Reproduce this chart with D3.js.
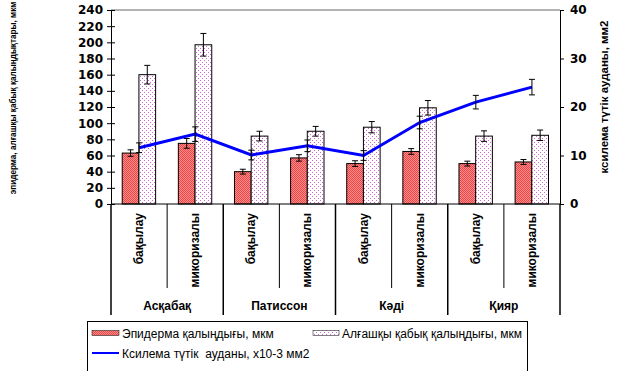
<!DOCTYPE html>
<html lang="kk">
<head>
<meta charset="UTF-8">
<script src="https://d3js.org/d3.v7.min.js"></script>
<style>
  body { margin: 0; background: #fff; }
  svg { display: block; }
  text { font-family: "Liberation Sans", Arial, sans-serif; fill: #000; }
</style>
</head>
<body>
<div id="app"></div>
<script>
  // data
  const groups = ['Асқабақ', 'Патиссон', 'Кәді', 'Қияр'];
  const variants = ['бақылау', 'микоризалы'];
  const epidermis = [63, 75, 40, 57, 50, 65, 50, 52];
  const epidermisErr = [4, 6, 3, 4, 3.5, 3.5, 3, 3];
  const cortex = [160, 197, 84, 90, 95, 119, 84, 85];
  const cortexErr = [11.5, 14, 6, 6, 7, 9, 6.5, 6.5];
  const xylem = [11.6, 14.4, 10.1, 12.0, 10.0, 16.8, 21.0, 24.1];
  const xylemErr = [1, 1.5, 1, 1.2, 1, 1.3, 1.4, 1.6];
  const leftTicks = d3.range(0, 241, 20);
  const rightTicks = [0, 10, 20, 30, 40];
  const seriesNames = ['Эпидерма қалыңдығы, мкм', 'Алғашқы қабық қалыңдығы, мкм', 'Ксилема түтік  ауданы, x10-3 мм2'];

  const cats = [];
  groups.forEach(function (g) {
    variants.forEach(function (v) { cats.push(g + '|' + v); });
  });

  const svg_width = 620, svg_height = 371;
  const plot_left = 111, plot_right = 560, plot_top = 10, plot_bottom = 204;

  const svg = d3.select('#app').append('svg')
    .attr('width', svg_width).attr('height', svg_height);

  const defs = svg.append('defs');
  const pRed = defs.append('pattern').attr('id', 'pRed')
    .attr('width', 2).attr('height', 2).attr('patternUnits', 'userSpaceOnUse');
  pRed.append('rect').attr('width', 2).attr('height', 2).attr('fill', '#ff8a8a');
  pRed.append('rect').attr('width', 1).attr('height', 1).attr('fill', '#e84848');
  pRed.append('rect').attr('x', 1).attr('y', 1).attr('width', 1).attr('height', 1).attr('fill', '#e84848');
  const pPink = defs.append('pattern').attr('id', 'pPink')
    .attr('width', 4).attr('height', 4).attr('patternUnits', 'userSpaceOnUse');
  pPink.append('rect').attr('width', 4).attr('height', 4).attr('fill', '#fff');
  pPink.append('rect').attr('width', 1).attr('height', 1).attr('fill', '#cc66cc');
  pPink.append('rect').attr('x', 2).attr('y', 2).attr('width', 1).attr('height', 1).attr('fill', '#cc66cc');

  const x = d3.scaleBand().domain(cats).range([plot_left, plot_right]).padding(0);
  const bw = x.bandwidth();
  const x1 = d3.scaleBand().domain(['ep', 'co']).range([bw * 0.2, bw * 0.795]).padding(0);
  const y = d3.scaleLinear().domain([0, 240]).range([plot_bottom, plot_top]);
  const y2 = d3.scaleLinear().domain([0, 40]).range([plot_bottom, plot_top]);

  // top border
  svg.append('line').attr('x1', plot_left).attr('x2', plot_right).attr('y1', plot_top).attr('y2', plot_top)
    .attr('stroke', '#666').attr('stroke-width', 1);

  function errBars(vals, errs, xf, sc) {
    const g = svg.append('g').attr('stroke', '#000').attr('stroke-width', 1);
    vals.forEach(function (v, i) {
      const cx = xf(i);
      const y0 = sc(v - errs[i]), y1 = sc(v + errs[i]);
      g.append('line').attr('x1', cx).attr('x2', cx).attr('y1', y0).attr('y2', y1);
      g.append('line').attr('x1', cx - 3).attr('x2', cx + 3).attr('y1', y0).attr('y2', y0);
      g.append('line').attr('x1', cx - 3).attr('x2', cx + 3).attr('y1', y1).attr('y2', y1);
    });
  }

  // bars
  svg.append('g').selectAll('rect').data(epidermis).enter().append('rect')
    .attr('x', function (d, i) { return x(cats[i]) + x1('ep'); })
    .attr('y', function (d) { return y(d); })
    .attr('width', x1.bandwidth())
    .attr('height', function (d) { return plot_bottom - y(d); })
    .attr('fill', 'url(#pRed)').attr('stroke', '#000').attr('stroke-width', 1);
  svg.append('g').selectAll('rect').data(cortex).enter().append('rect')
    .attr('x', function (d, i) { return x(cats[i]) + x1('co'); })
    .attr('y', function (d) { return y(d); })
    .attr('width', x1.bandwidth())
    .attr('height', function (d) { return plot_bottom - y(d); })
    .attr('fill', 'url(#pPink)').attr('stroke', '#000').attr('stroke-width', 1);

  errBars(epidermis, epidermisErr, function (i) { return x(cats[i]) + x1('ep') + x1.bandwidth() / 2; }, y);
  errBars(cortex, cortexErr, function (i) { return x(cats[i]) + x1('co') + x1.bandwidth() / 2; }, y);

  // line
  const line = d3.line()
    .x(function (d, i) { return x(cats[i]) + bw / 2; })
    .y(function (d) { return y2(d); });
  svg.append('path').datum(xylem).attr('d', line)
    .attr('fill', 'none').attr('stroke', '#0000ff').attr('stroke-width', 3);
  errBars(xylem, xylemErr, function (i) { return x(cats[i]) + bw / 2; }, y2);

  // left axis
  const ax = svg.append('g').attr('transform', 'translate(' + plot_left + ',0)')
    .call(d3.axisLeft(y).tickValues(leftTicks).tickSize(4));
  ax.select('.domain').attr('stroke', '#000');
  ax.selectAll('.tick line').attr('x1', -4).attr('x2', 4);
  ax.selectAll('.tick text').attr('x', -8)
    .style('font-family', '"DejaVu Sans", sans-serif').style('font-weight', 'bold').style('font-size', '12px');

  // right axis
  const ax2 = svg.append('g').attr('transform', 'translate(' + plot_right + ',0)')
    .call(d3.axisRight(y2).tickValues(rightTicks).tickSize(4));
  ax2.select('.domain').attr('stroke', '#000');
  ax2.selectAll('.tick text').attr('x', 10)
    .style('font-family', '"DejaVu Sans", sans-serif').style('font-weight', 'bold').style('font-size', '12px');

  // category axis
  svg.append('line').attr('x1', plot_left).attr('x2', plot_right).attr('y1', plot_bottom).attr('y2', plot_bottom)
    .attr('stroke', '#000');
  cats.forEach(function (c, i) {
    const bx = x(c);
    const isGroup = i % 2 === 0;
    svg.append('line').attr('x1', bx).attr('x2', bx).attr('y1', plot_bottom).attr('y2', isGroup ? 315 : 288)
      .attr('stroke', '#000').attr('stroke-width', isGroup ? 1.5 : 1);
    svg.append('text')
      .attr('transform', 'translate(' + (bx + bw / 2 + 4) + ',213) rotate(-90)')
      .attr('text-anchor', 'end')
      .style('font-weight', 'bold').style('font-size', '12px')
      .text(c.split('|')[1]);
  });
  svg.append('line').attr('x1', plot_right).attr('x2', plot_right).attr('y1', plot_bottom).attr('y2', 315)
    .attr('stroke', '#000').attr('stroke-width', 1.5);
  groups.forEach(function (g, i) {
    svg.append('text')
      .attr('x', x(cats[i * 2]) + bw).attr('y', 310)
      .attr('text-anchor', 'middle')
      .style('font-weight', 'bold').style('font-size', '12px')
      .text(g);
  });

  // axis titles
  svg.append('text')
    .attr('transform', 'translate(16,98) rotate(-90)')
    .attr('text-anchor', 'middle')
    .style('font-weight', 'bold').style('font-size', '8.2px')
    .text('эпидерма, алғашқы қабық қалыңдықтары, мкм');
  svg.append('text')
    .attr('transform', 'translate(608,97) rotate(-90)')
    .attr('text-anchor', 'middle')
    .style('font-weight', 'bold').style('font-size', '11.5px')
    .text('ксилема түтік ауданы, мм2');

  // legend
  const lg = svg.append('g');
  lg.append('rect').attr('x', 87.5).attr('y', 321.5).attr('width', 440).attr('height', 60)
    .attr('fill', '#fff').attr('stroke', '#000');
  lg.append('rect').attr('x', 92).attr('y', 330.5).attr('width', 27).attr('height', 5)
    .attr('fill', 'url(#pRed)').attr('stroke', '#000').attr('stroke-width', 0.5);
  lg.append('text').attr('x', 122).attr('y', 337.5).style('font-size', '12px').text(seriesNames[0]);
  lg.append('rect').attr('x', 313).attr('y', 330.5).attr('width', 26).attr('height', 5)
    .attr('fill', 'url(#pPink)').attr('stroke', '#000').attr('stroke-width', 0.5);
  lg.append('text').attr('x', 342).attr('y', 337.5).style('font-size', '12px').text(seriesNames[1]);
  lg.append('line').attr('x1', 92).attr('x2', 119).attr('y1', 353).attr('y2', 353)
    .attr('stroke', '#0000ff').attr('stroke-width', 2);
  lg.append('text').attr('x', 122).attr('y', 357.5).style('font-size', '12px').style('white-space', 'pre')
    .text(seriesNames[2]);
</script>
</body>
</html>
